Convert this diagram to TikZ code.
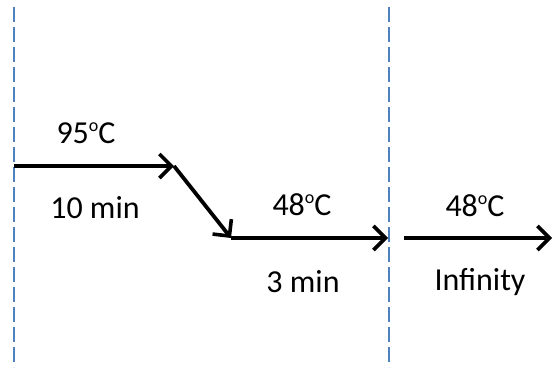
\documentclass[tikz,border=0pt]{standalone}
\usepackage{fontspec}
\setmainfont{Carlito}
\usetikzlibrary{arrows.meta}
\newcommand{\degC}{\raisebox{11.5pt}{\fontsize{18}{20}\selectfont o}C}
\begin{document}
\begin{tikzpicture}[x=1pt,y=-1pt,
  divider/.style={draw={rgb,255:red,79;green,129;blue,189},line width=1.6pt,dash pattern=on 15pt off 5pt},
  flow/.style={line width=3.8pt,-{Straight Barb[length=12pt,width=24pt,line width=3.6pt]}},
  lbl/.style={font=\fontsize{32}{36}\selectfont,anchor=base,inner sep=0pt}]
\useasboundingbox (0,0) rectangle (554,367);
\coordinate (dl1) at (14,7);
\coordinate (dl2) at (14,367);
\coordinate (dr1) at (389,7);
\coordinate (dr2) at (389,367);
\draw[divider] (dl1) -- (dl2);
\draw[divider] (dr1) -- (dr2);
\coordinate (a0) at (14,166);
\coordinate (a1) at (174,166);
\coordinate (a2) at (231,238);
\coordinate (a3) at (388,238);
\coordinate (b0) at (404,238);
\coordinate (b1) at (552,238);
\draw[flow] (a0) -- (a1);
\draw[flow] (a1) -- (a2);
\draw[flow] (a2) -- (a3);
\draw[flow] (b0) -- (b1);
\node[lbl] (t1) at (86,143) {95\degC};
\node[lbl] (d1) at (95,218) {10 min};
\node[lbl] (t2) at (302,215) {48\degC};
\node[lbl] (d2) at (303,292) {3 min};
\node[lbl] (t3) at (475,216) {48\degC};
\node[lbl] (d3) at (480,290) {Infinity};
\end{tikzpicture}
\end{document}
